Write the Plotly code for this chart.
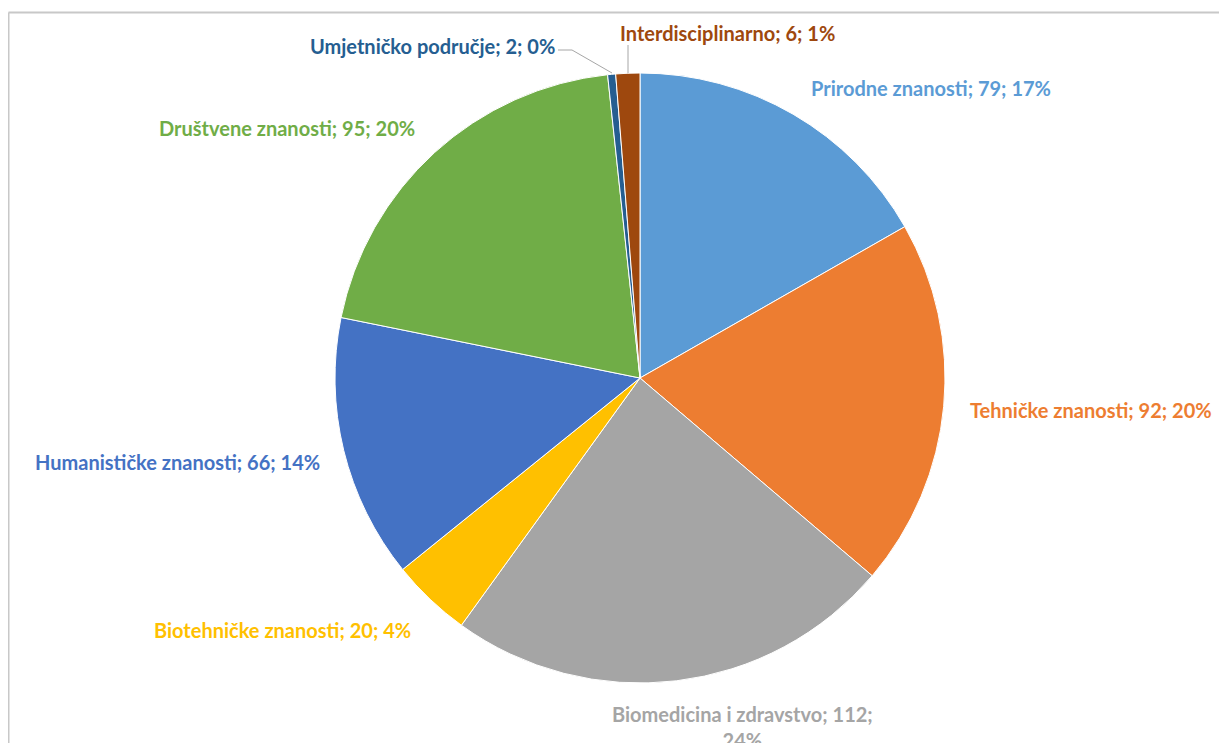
import plotly.graph_objects as go

# ---- data ----
categories = ["Prirodne znanosti", "Tehničke znanosti", "Biomedicina i zdravstvo",
              "Biotehničke znanosti", "Humanističke znanosti", "Društvene znanosti",
              "Umjetničko područje", "Interdisciplinarno"]
values = [79, 92, 112, 20, 66, 95, 2, 6]
percent_labels = [17, 20, 24, 4, 14, 20, 0, 1]

# ---- styles ----
colors = ["#5B9BD5", "#ED7D31", "#A5A5A5", "#FFC000", "#4472C4", "#70AD47", "#255E91", "#9E480E"]

W, H = 1227, 743
OX, OY = 8, 8  # page offset compensation
cx, cy, r = 640 - OX, 378 - OY, 305

fig = go.Figure(go.Pie(
    labels=categories, values=values, sort=False, direction="clockwise", rotation=0,
    marker=dict(colors=colors, line=dict(color="white", width=1)),
    textinfo="none", hoverinfo="label+value+percent", showlegend=False,
    domain=dict(x=[(cx - r) / W, (cx + r) / W], y=[(H - cy - r) / H, (H - cy + r) / H]),
))

# label centre positions in reference pixels (layout only)
label_pos = [(931, 88), (1091, 410), (742, 727), (282, 630), (177, 462), (287, 128), (432, 46), (727, 33)]

def px2paper(x, y):
    return (x - OX) / W, 1 - (y - OY) / H

annotations = []
for cat, v, pct, col, (px, py) in zip(categories, values, percent_labels, colors, label_pos):
    if cat.startswith("Biomedicina"):
        txt = f"<b>{cat}; {v};<br>{pct}%</b>"
    else:
        txt = f"<b>{cat}; {v}; {pct}%</b>"
    x, y = px2paper(px, py)
    annotations.append(dict(x=x, y=y, xref="paper", yref="paper", text=txt,
                            showarrow=False, xanchor="center", yanchor="middle",
                            font=dict(family="Lato", size=20, color=col)))

shapes = []
# chart border
x0, y0 = px2paper(8.5, 12.5)
shapes.append(dict(type="line", xref="paper", yref="paper", x0=x0, y0=y0, x1=1.01, y1=y0,
                   line=dict(color="#C8C8C8", width=2)))
shapes.append(dict(type="line", xref="paper", yref="paper", x0=x0, y0=y0, x1=x0, y1=-0.01,
                   line=dict(color="#C8C8C8", width=2)))
# leader lines
for (ax, ay, bx, by) in [(558, 50, 572, 50), (572, 50, 612, 73), (628, 45, 628, 73)]:
    a = px2paper(ax, ay); b = px2paper(bx, by)
    shapes.append(dict(type="line", xref="paper", yref="paper", x0=a[0], y0=a[1], x1=b[0], y1=b[1],
                       line=dict(color="#A6A6A6", width=1)))

fig.update_layout(width=W, height=H, margin=dict(l=0, r=0, t=0, b=0),
                  paper_bgcolor="white", plot_bgcolor="white",
                  annotations=annotations, shapes=shapes)

fig.write_html("out.html")
